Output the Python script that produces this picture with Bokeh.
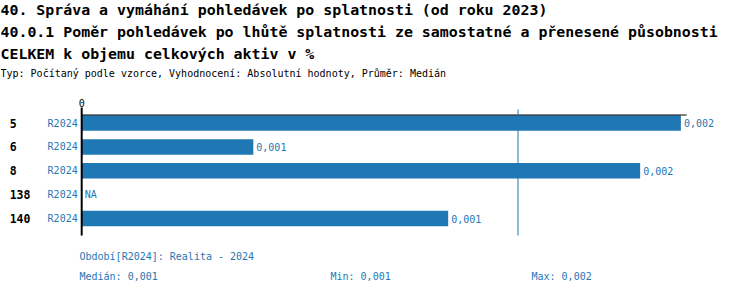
import math
from bokeh.plotting import figure
from bokeh.models import ColumnDataSource, Range1d
from bokeh.core.properties import value
from bokeh.embed import file_html
from bokeh.resources import INLINE

# ---------------- data ----------------
title_lines = [
    "40. Správa a vymáhání pohledávek po splatnosti (od roku 2023)",
    "40.0.1 Poměr pohledávek po lhůtě splatnosti ze samostatné a přenesené působnosti",
    "CELKEM k objemu celkových aktiv v %",
]
subtitle = "Typ: Počítaný podle vzorce, Vyhodnocení: Absolutní hodnoty, Průměr: Medián"
categories = ["5", "6", "8", "138", "140"]
periods = ["R2024", "R2024", "R2024", "R2024", "R2024"]
values = [0.00206, 0.00059, 0.00192, float("nan"), 0.00126]
median_value = 0.00150
x_max = 0.00208
axis_ticks = [0]
period_note = "Období[R2024]: Realita - 2024"
summary_labels = ["Medián: 0,001", "Min: 0,001", "Max: 0,002"]

# ---------------- layout (pixels) ----------------
W, H = 750, 294
BLUE = "#1f77b4"
MONO = "DejaVu Sans Mono"
ROW = 23.9          # pixels per row
X0 = 81.2           # pixel of value 0
AXIS_W = 605        # pixel width of the value axis
Y0 = 122.5          # pixel centre of first row
K = AXIS_W / x_max  # pixels per unit

def sx(px):
    return (px - X0) / K

def sy(py):
    return (py - Y0) / ROW

def fmt(v):
    return "NA" if math.isnan(v) else f"{v:.3f}".replace(".", ",")

idx = list(range(len(categories)))
source = ColumnDataSource(dict(
    y=idx,
    cat=categories,
    period=periods,
    val=values,
    zero=[0] * len(values),
    label_x=[0 if math.isnan(v) else v for v in values],
    label=[fmt(v) for v in values],
))

p = figure(
    width=W, height=H,
    output_backend="svg", toolbar_location=None,
    x_axis_location=None, y_axis_location=None,
    x_range=Range1d(sx(0), sx(W)),
    y_range=Range1d(sy(H), sy(0)),
    min_border=0, min_border_left=0, min_border_right=0,
    min_border_top=0, min_border_bottom=0,
)
p.outline_line_color = None
p.grid.visible = False
p.background_fill_color = "white"
p.border_fill_color = "white"

# bars
p.hbar(y="y", left="zero", right="val", height=0.65, source=source,
       fill_color=BLUE, line_color=None)

# axis lines
p.segment(x0=[0], x1=[x_max], y0=[sy(114.5)], y1=[sy(114.5)], line_color="black", line_width=1)
p.segment(x0=[0], x1=[0], y0=[sy(107)], y1=[sy(235)], line_color="black", line_width=2)
p.segment(x0=[median_value], x1=[median_value], y0=[sy(109)], y1=[sy(235)],
          line_color=BLUE, line_width=1)

# top axis tick label
p.text(x=axis_ticks, y=[sy(106.5)] * len(axis_ticks), text=[str(t) for t in axis_ticks],
       text_font=value(MONO), text_font_size="10px", text_color="black",
       text_align="center", text_baseline="bottom")

# row labels
p.text(x="zero", y="y", text="cat", source=source, x_offset=-72,
       text_font=value(MONO), text_font_style="bold", text_font_size="11.5px",
       text_color="black", text_align="left", text_baseline="middle")
p.text(x="zero", y="y", text="period", source=source, x_offset=-4,
       text_font=value(MONO), text_font_size="10px",
       text_color=BLUE, text_align="right", text_baseline="middle")
p.text(x="label_x", y="y", text="label", source=source, x_offset=3,
       text_font=value(MONO), text_font_size="10px",
       text_color=BLUE, text_align="left", text_baseline="middle")

# titles
title_base = [9.5, 31.5, 53.2]
p.text(x=[sx(0)] * 3, y=[sy(b) for b in title_base], text=title_lines,
       text_font=value(MONO), text_font_size="14.9px", text_font_style="bold",
       text_color="black", text_align="left", text_baseline="middle")
p.text(x=[sx(0)], y=[sy(72.5)], text=[subtitle],
       text_font=value(MONO), text_font_size="10px",
       text_color="black", text_align="left", text_baseline="middle")

# footer
p.text(x=[sx(79)], y=[sy(256)], text=[period_note],
       text_font=value(MONO), text_font_size="10px",
       text_color=BLUE, text_align="left", text_baseline="middle")
p.text(x=[sx(px) for px in (79, 330, 531)], y=[sy(276)] * 3, text=summary_labels,
       text_font=value(MONO), text_font_size="10px",
       text_color=BLUE, text_align="left", text_baseline="middle")

open("out.html", "w").write(file_html(p, INLINE))
